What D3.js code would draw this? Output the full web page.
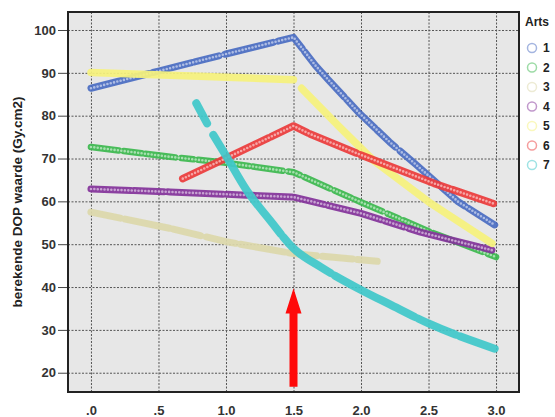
<!DOCTYPE html>
<html>
<head>
<meta charset="utf-8">
<script src="https://cdnjs.cloudflare.com/ajax/libs/d3/7.8.5/d3.min.js"></script>
<style>
    body { margin: 0; background: #ffffff; }
    svg text { font-family: "Liberation Sans", Arial, sans-serif; font-weight: bold; }
</style>
</head>
<body>
<svg id="chart" width="555" height="417"></svg>
<script>

// tick values and labels
var xTicks = [0, 0.5, 1, 1.5, 2, 2.5, 3];
var xTickLabels = [".0", ".5", "1.0", "1.5", "2.0", "2.5", "3.0"];
var yTicks = [20, 30, 40, 50, 60, 70, 80, 90, 100];

// legend
var legendTitle = "Arts";
var artsNames = ["1", "2", "3", "4", "5", "6", "7"];
var artsColors = ["#4a6cc2", "#3cb84e", "#dcd8aa", "#83329a", "#f6f27c", "#ec3b3b", "#3fc8ca"];

// series, [x, y] (null = gap in the points)
var arts1 = [[0, 86.4], [0.5, 90.4], [1.0, 94.4], [1.5, 98.3], [1.66, 91.8], [1.76, 88.3], [1.99, 80.5],
    [2.21, 73.9], [2.41, 68.5], [2.72, 59.9], [2.99, 54.5]];
var arts2 = [[0, 72.7], [0.585, 70.4], [1.0, 69.0], [1.5, 66.8], [2.0, 59.8], [2.51, 52.9], [3.0, 47.0]];
var arts3 = [[0, 57.5], [0.585, 53.7], [1.0, 50.6], [1.5, 47.8], [2.12, 46.0]];
var arts4 = [[0, 62.9], [0.585, 62.2], [1.5, 61.0], [2.0, 57.2], [2.44, 52.8], [2.97, 48.6]];
var arts5 = [[0, 90.1], [1.5, 88.4], null, [1.56, 86.4], [1.84, 77.4], [2.09, 69.6], [2.5, 59.9], [2.97, 50.2]];
var arts6 = [[0.68, 65.3], [0.955, 69.4], [1.5, 77.6], [1.61, 75.9], [1.97, 71.2], [2.54, 64.2], [2.98, 59.5]];
var arts7 = [[0.78, 82.9], [0.86, 78.2], null, [0.906, 75.5], [1.005, 70.4], [1.153, 62.6], [1.326, 55.6],
    [1.5, 49.0], [1.7, 44.7], [1.99, 39.5], [2.21, 36.0], [2.5, 31.5], [2.99, 25.6]];
var allArts = [arts1, arts2, arts3, arts4, arts5, arts6, arts7];

// red arrow annotation at x = 1.5
var arrowX = 1.5;
var arrowFrom = 16.7;
var arrowHead = 33.8;
var arrowTo = 39.7;

var svg = d3.select("#chart");
var plot = {left: 68, right: 519, top: 12, bottom: 392};

var xScale = d3.scaleLinear().domain([-0.17, 3.17]).range([plot.left, plot.right]);
var yScale = d3.scaleLinear().domain([15.5, 104.2]).range([plot.bottom, plot.top]);

// plot background
svg.append("rect")
    .attr("x", plot.left)
    .attr("y", plot.top)
    .attr("width", plot.right - plot.left)
    .attr("height", plot.bottom - plot.top)
    .attr("fill", "#e7e7e7");

// grid lines
svg.append("g")
    .attr("class", "grid x")
    .attr("transform", "translate(0," + plot.bottom + ")")
    .call(d3.axisBottom(xScale).tickValues(xTicks).tickSize(-(plot.bottom - plot.top)).tickFormat(""))
    .call(function(g) { g.select(".domain").remove(); });

svg.append("g")
    .attr("class", "grid y")
    .attr("transform", "translate(" + plot.left + ",0)")
    .call(d3.axisLeft(yScale).tickValues(yTicks).tickSize(-(plot.right - plot.left)).tickFormat(""))
    .call(function(g) { g.select(".domain").remove(); });

svg.selectAll(".grid line")
    .attr("stroke", "#555")
    .attr("stroke-width", 1)
    .attr("stroke-dasharray", "2,1.5");

// y axis with short outside ticks
var yAxis = svg.append("g")
    .attr("class", "axis y")
    .attr("transform", "translate(" + plot.left + ",0)")
    .call(d3.axisLeft(yScale).tickValues(yTicks).tickSize(10).tickPadding(2));
yAxis.select(".domain").remove();
yAxis.selectAll("line").attr("stroke", "#444");
yAxis.selectAll("text")
    .style("font-size", "13px")
    .attr("fill", "#333");

// x axis labels only
var xAxis = svg.append("g")
    .attr("class", "axis x")
    .attr("transform", "translate(0," + plot.bottom + ")")
    .call(d3.axisBottom(xScale).tickValues(xTicks).tickSize(0).tickPadding(14)
        .tickFormat(function(d, i) { return xTickLabels[i]; }));
xAxis.select(".domain").remove();
xAxis.selectAll("text")
    .style("font-size", "13px")
    .attr("fill", "#333");

// y title
svg.append("text")
    .attr("transform", "translate(22," + ((plot.top + plot.bottom) / 2) + ") rotate(-90)")
    .attr("text-anchor", "middle")
    .style("font-size", "13.5px")
    .attr("fill", "#222")
    .text("berekende DOP waarde (Gy.cm2)");

// the series, drawn as a dense chain of open circles
var line = d3.line()
    .defined(function(d) { return d !== null; })
    .x(function(d) { return xScale(d[0]); })
    .y(function(d) { return yScale(d[1]); });

// the decay curve of arts 7 is smooth
var curvedLine = d3.line()
    .defined(function(d) { return d !== null; })
    .curve(d3.curveMonotoneX)
    .x(function(d) { return xScale(d[0]); })
    .y(function(d) { return yScale(d[1]); });

var hollow = [true, true, false, true, false, true, false];
var widths = [7, 6.5, 7, 7, 7.5, 7.5, 8];
var gaps = ["60 4 40 3 25 6 50 5 30 4", "28 5 18 4 30 6 12 5", "30 5 45 4 28 6",
    "40 3 30 4 55 4 20 5", "400 0", "95 3 40 3 50 5", "120 4 60 5 90 4 40 5"];

var lines = svg.append("g").attr("class", "lines");

allArts.forEach(function(arts, i) {
    var path = (i === 6 ? curvedLine : line)(arts);

    lines.append("path")
        .attr("class", "line")
        .attr("id", "line" + artsNames[i])
        .attr("d", path)
        .attr("fill", "none")
        .attr("stroke", artsColors[i])
        .attr("stroke-width", widths[i])
        .attr("stroke-linecap", "round")
        .attr("stroke-linejoin", "round")
        .attr("stroke-dasharray", gaps[i])
        .attr("opacity", 0.92);

    if (hollow[i]) {
        // light centres of the circles
        lines.append("path")
            .attr("d", path)
            .attr("fill", "none")
            .attr("stroke", d3.interpolateRgb(artsColors[i], "#ffffff")(0.55))
            .attr("stroke-width", 2.6)
            .attr("stroke-linecap", "round")
            .attr("stroke-dasharray", "0 3.4");
    }
});

// red arrow
var ax = xScale(arrowX);
var arrowPoints = [
    [ax - 4, yScale(arrowFrom)], [ax - 4, yScale(arrowHead)], [ax - 8, yScale(arrowHead)],
    [ax, yScale(arrowTo)],
    [ax + 8, yScale(arrowHead)], [ax + 4, yScale(arrowHead)], [ax + 4, yScale(arrowFrom)]
];
svg.append("polygon")
    .attr("points", arrowPoints.map(function(p) { return p.join(","); }).join(" "))
    .attr("fill", "#ff0a0a");

// frame
svg.append("rect")
    .attr("x", plot.left)
    .attr("y", plot.top)
    .attr("width", plot.right - plot.left)
    .attr("height", plot.bottom - plot.top)
    .attr("fill", "none")
    .attr("stroke", "#222")
    .attr("stroke-width", 2);

// legend
var legend = svg.append("g").attr("class", "legend");
legend.append("text")
    .attr("x", 525)
    .attr("y", 26)
    .style("font-size", "12px")
    .attr("fill", "#222")
    .text(legendTitle);

var items = legend.selectAll("g.item")
    .data(artsNames)
    .enter().append("g")
    .attr("class", "item")
    .attr("transform", function(d, i) { return "translate(532," + (48 + i * 19.5) + ")"; });

items.append("circle")
    .attr("r", 4.5)
    .attr("fill", "none")
    .attr("stroke", function(d, i) { return artsColors[i]; })
    .attr("stroke-opacity", 0.5)
    .attr("stroke-width", 1.5);

items.append("text")
    .attr("x", 11)
    .attr("dy", "0.36em")
    .style("font-size", "12px")
    .attr("fill", "#222")
    .text(function(d) { return d; });

</script>
</body>
</html>
